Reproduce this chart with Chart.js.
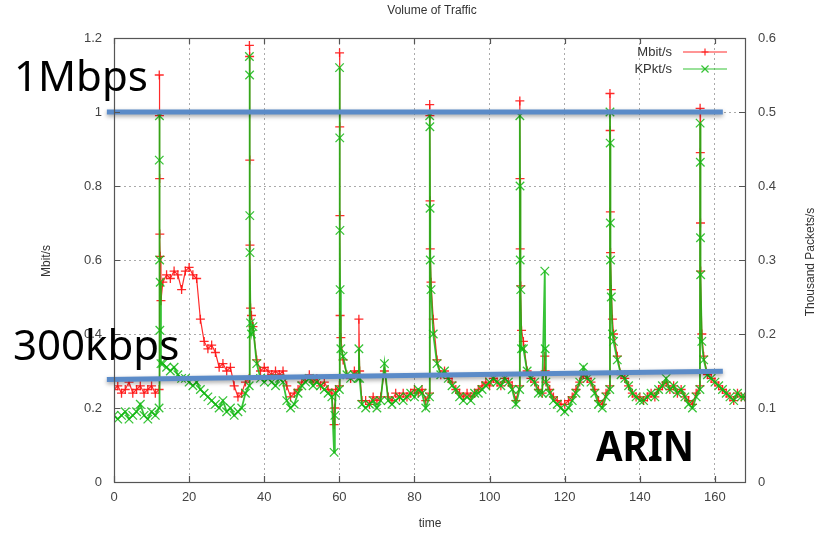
<!DOCTYPE html>
<html>
<head>
<meta charset="utf-8">
<script src="https://cdn.jsdelivr.net/npm/chart.js@4.4.0/dist/chart.umd.min.js"></script>
<style>
  html, body { margin: 0; padding: 0; background: #fff; }
  canvas { display: block; }
</style>
</head>
<body>
<canvas id="trafficChart" width="826" height="535" style="width:826px;height:535px"></canvas>
<script>
// hourly samples, t = 0 .. 168
const mbit = [
    0.25, 0.26, 0.24, 0.25, 0.27, 0.24, 0.25, 0.26, 0.24, 0.25, 0.26, 0.24, 0.25,
    0.54, 0.56, 0.55, 0.57, 0.56, 0.52, 0.57, 0.58, 0.56, 0.55, 0.44, 0.38,
    0.36, 0.37, 0.35, 0.31, 0.32, 0.30, 0.31, 0.26, 0.23, 0.24, 0.27, 0.28,
    0.42, 0.33, 0.30, 0.31, 0.30, 0.29, 0.30, 0.29, 0.30, 0.26, 0.23, 0.24,
    0.25, 0.27, 0.28, 0.29, 0.27, 0.28, 0.26, 0.27, 0.25, 0.24, 0.25, 0.26,
    0.33, 0.29, 0.28, 0.30, 0.29, 0.22, 0.22, 0.21, 0.23, 0.22, 0.23, 0.30,
    0.23, 0.22, 0.24, 0.23, 0.24, 0.23, 0.24, 0.25, 0.24, 0.25, 0.22, 0.24,
    0.44, 0.33, 0.29, 0.30, 0.28, 0.27, 0.25, 0.24, 0.23, 0.24, 0.23, 0.24,
    0.25, 0.26, 0.27, 0.26, 0.28, 0.27, 0.26, 0.28, 0.27, 0.26, 0.22, 0.26,
    0.38, 0.30, 0.28, 0.27, 0.25, 0.24, 0.27, 0.25, 0.23, 0.22, 0.21, 0.21,
    0.22, 0.23, 0.25, 0.27, 0.29, 0.28, 0.27, 0.25, 0.22, 0.21, 0.24, 0.26,
    0.40, 0.34, 0.29, 0.28, 0.26, 0.24, 0.23, 0.23, 0.22, 0.23, 0.24, 0.23,
    0.25, 0.26, 0.27, 0.25, 0.26, 0.24, 0.25, 0.23, 0.22, 0.21, 0.24, 0.26,
    0.34, 0.29, 0.28, 0.27, 0.26, 0.25, 0.24, 0.23, 0.22, 0.24, 0.23, 0.23
];
const kpkt = [
    0.09, 0.085, 0.09, 0.095, 0.085, 0.09, 0.095, 0.105, 0.09, 0.085, 0.095, 0.09, 0.10,
    0.16, 0.155, 0.15, 0.155, 0.145, 0.14, 0.14, 0.135, 0.13, 0.135, 0.125, 0.12,
    0.115, 0.11, 0.105, 0.10, 0.11, 0.095, 0.10, 0.09, 0.095, 0.10, 0.12, 0.13,
    0.21, 0.16, 0.14, 0.135, 0.14, 0.135, 0.13, 0.14, 0.135, 0.11, 0.10, 0.105,
    0.12, 0.13, 0.135, 0.14, 0.13, 0.135, 0.13, 0.125, 0.12, 0.115, 0.12, 0.125,
    0.17, 0.145, 0.14, 0.145, 0.14, 0.105, 0.10, 0.105, 0.11, 0.10, 0.11, 0.16,
    0.11, 0.105, 0.11, 0.115, 0.11, 0.115, 0.12, 0.115, 0.125, 0.12, 0.10, 0.115,
    0.20, 0.16, 0.145, 0.15, 0.14, 0.13, 0.125, 0.115, 0.11, 0.115, 0.11, 0.12,
    0.12, 0.125, 0.13, 0.135, 0.14, 0.135, 0.13, 0.14, 0.135, 0.125, 0.105, 0.125,
    0.18, 0.15, 0.14, 0.135, 0.12, 0.12, 0.135, 0.12, 0.11, 0.105, 0.10, 0.095,
    0.10, 0.11, 0.12, 0.135, 0.155, 0.14, 0.135, 0.12, 0.105, 0.10, 0.115, 0.125,
    0.19, 0.165, 0.145, 0.14, 0.13, 0.12, 0.115, 0.11, 0.11, 0.115, 0.12, 0.115,
    0.125, 0.13, 0.14, 0.125, 0.13, 0.12, 0.125, 0.115, 0.105, 0.10, 0.115, 0.125,
    0.165, 0.145, 0.14, 0.135, 0.13, 0.125, 0.12, 0.115, 0.11, 0.12, 0.115, 0.115
];

// short bursts between the hourly samples (daily spikes)
const spikeTimes = [
    12.05, 12.1, 12.15, 12.2, 12.3, 12.5,
    36.05, 36.1, 36.15, 36.2, 36.35, 36.6,
    58.6, 58.8,
    60.05, 60.1, 60.15, 60.2, 60.4,
    65.2, 65.4,
    84.05, 84.1, 84.15, 84.2, 84.4,
    108.05, 108.1, 108.15, 108.3, 108.5,
    114.7, 114.8,
    132.05, 132.1, 132.15, 132.2, 132.4, 132.7,
    156.05, 156.1, 156.15, 156.2, 156.5
];
const spikeMbit = [
    1.10, 0.99, 0.82, 0.67, 0.61, 0.49,
    1.18, 1.15, 0.87, 0.64, 0.47, 0.45,
    0.155, 0.20,
    1.16, 0.96, 0.72, 0.45, 0.39,
    0.44, 0.30,
    1.02, 0.99, 0.76, 0.63, 0.54,
    1.03, 0.82, 0.63, 0.53, 0.41,
    0.34, 0.30,
    1.05, 0.95, 0.73, 0.62, 0.52, 0.44,
    1.01, 0.89, 0.70, 0.57, 0.40
];
const spikeKpkt = [
    0.435, 0.495, 0.30, 0.205, 0.27, 0.16,
    0.575, 0.55, 0.36, 0.31, 0.215, 0.20,
    0.04, 0.09,
    0.56, 0.465, 0.34, 0.26, 0.18,
    0.18, 0.14,
    0.495, 0.48, 0.37, 0.30, 0.26,
    0.495, 0.40, 0.30, 0.26, 0.18,
    0.285, 0.18,
    0.50, 0.458, 0.35, 0.30, 0.25, 0.20,
    0.485, 0.432, 0.33, 0.28, 0.19
];

const xTicks = [0, 20, 40, 60, 80, 100, 120, 140, 160];
const leftTicks = [0, 0.2, 0.4, 0.6, 0.8, 1, 1.2];
const rightTicks = [0, 0.1, 0.2, 0.3, 0.4, 0.5, 0.6];

// blue marker lines drawn over the plot (Mbit/s axis)
const refLineX = [-1.9, 162.1];
const line1Mbps = [1.0, 1.0];
const line300k = [0.277, 0.299];

function buildPoints(hourly, spikes) {
    const pts = hourly.map((v, i) => ({ x: i, y: v }));
    spikeTimes.forEach((t, i) => pts.push({ x: t, y: spikes[i] }));
    return pts.sort((a, b) => a.x - b.x);
}

const RED = 'rgba(255,20,20,0.9)';
const GREEN = 'rgba(20,185,20,0.85)';
const fontFam = '"Liberation Sans", Arial, sans-serif';

const decor = {
    id: 'decor',
    afterDatasetsDraw(chart) {
        const { ctx, scales } = chart;
        const x = scales.x, y = scales.y;
        ctx.save();
        ctx.strokeStyle = '#5b8bc8';
        ctx.lineWidth = 5;
        ctx.shadowColor = 'rgba(0,0,0,0.35)';
        ctx.shadowBlur = 4;
        ctx.shadowOffsetY = 2;
        [line1Mbps, line300k].forEach(line => {
            ctx.beginPath();
            ctx.moveTo(x.getPixelForValue(refLineX[0]), y.getPixelForValue(line[0]));
            ctx.lineTo(x.getPixelForValue(refLineX[1]), y.getPixelForValue(line[1]));
            ctx.stroke();
        });
        ctx.restore();
    },
    afterDraw(chart) {
        const { ctx, chartArea: a, scales } = chart;
        ctx.save();

        // gnuplot style frame with inward tics
        ctx.strokeStyle = '#555';
        ctx.lineWidth = 1.2;
        ctx.strokeRect(a.left + 0.5, a.top + 0.5, a.right - a.left, a.bottom - a.top);
        ctx.beginPath();
        xTicks.forEach(v => {
            const px = Math.round(scales.x.getPixelForValue(v)) + 0.5;
            ctx.moveTo(px, a.bottom); ctx.lineTo(px, a.bottom - 6);
            ctx.moveTo(px, a.top); ctx.lineTo(px, a.top + 6);
        });
        leftTicks.forEach(v => {
            const py = Math.round(scales.y.getPixelForValue(v)) + 0.5;
            ctx.moveTo(a.left, py); ctx.lineTo(a.left + 6, py);
        });
        rightTicks.forEach(v => {
            const py = Math.round(scales.y1.getPixelForValue(v)) + 0.5;
            ctx.moveTo(a.right, py); ctx.lineTo(a.right - 6, py);
        });
        ctx.stroke();

        // titles
        ctx.fillStyle = '#333';
        ctx.font = '12px ' + fontFam;
        ctx.textAlign = 'center';
        ctx.textBaseline = 'middle';
        ctx.fillText('Volume of Traffic', 432, 11);
        ctx.fillText('time', 430, 524);
        ctx.save();
        ctx.translate(47, 261);
        ctx.rotate(-Math.PI / 2);
        ctx.fillText('Mbit/s', 0, 0);
        ctx.restore();
        ctx.save();
        ctx.translate(811, 262);
        ctx.rotate(-Math.PI / 2);
        ctx.fillText('Thousand Packets/s', 0, 0);
        ctx.restore();

        // legend
        ctx.font = '13px ' + fontFam;
        ctx.textAlign = 'right';
        chart.data.datasets.forEach((ds, i) => {
            const ly = 52 + i * 17;
            ctx.fillStyle = '#333';
            ctx.fillText(ds.label, 672, ly);
            ctx.strokeStyle = ds.borderColor;
            ctx.lineWidth = 1.2;
            ctx.beginPath();
            ctx.moveTo(683, ly); ctx.lineTo(727, ly);
            ctx.stroke();
            Chart.helpers.drawPoint(ctx, {
                pointStyle: ds.pointStyle, radius: ds.pointRadius - 1, borderWidth: 1
            }, 705, ly);
        });

        // slide annotations
        ctx.fillStyle = '#000';
        ctx.textAlign = 'left';
        ctx.textBaseline = 'alphabetic';
        ctx.font = '42px "Noto Sans", sans-serif';
        ctx.fillText('1Mbps', 14, 91);
        ctx.fillText('300kbps', 13, 360);
        ctx.save();
        ctx.font = 'bold 41px "Noto Sans", sans-serif';
        const w = ctx.measureText('ARIN').width;
        ctx.translate(596, 461);
        ctx.scale(98 / w, 1);
        ctx.fillText('ARIN', 0, 0);
        ctx.restore();

        ctx.restore();
    }
};

const tickFont = { family: fontFam, size: 13 };
const numLabel = v => String(+Number(v).toFixed(2));

new Chart(document.getElementById('trafficChart'), {
    type: 'line',
    data: {
        datasets: [{
            label: 'Mbit/s',
            data: buildPoints(mbit, spikeMbit),
            yAxisID: 'y',
            borderColor: RED,
            backgroundColor: RED,
            borderWidth: 1.2,
            pointStyle: 'cross',
            pointRadius: 4.5,
            pointBorderWidth: 1.3,
            pointBorderColor: RED,
            tension: 0,
            order: 2
        }, {
            label: 'KPkt/s',
            data: buildPoints(kpkt, spikeKpkt),
            yAxisID: 'y1',
            borderColor: GREEN,
            backgroundColor: GREEN,
            borderWidth: 1.8,
            pointStyle: 'crossRot',
            pointRadius: 6,
            pointBorderWidth: 1.3,
            pointBorderColor: GREEN,
            tension: 0,
            order: 1
        }]
    },
    options: {
        responsive: false,
        animation: false,
        devicePixelRatio: 1,
        layout: { padding: { top: 38, left: 0, right: 0, bottom: 0 } },
        parsing: false,
        scales: {
            x: {
                type: 'linear',
                min: 0,
                max: 168,
                afterFit: s => { s.height = 53; },
                ticks: { stepSize: 20, includeBounds: false, font: tickFont, color: '#444', padding: 8, maxRotation: 0 },
                grid: { color: '#aaa', drawTicks: false, lineWidth: 1 },
                border: { display: false, dash: [2, 3] }
            },
            y: {
                position: 'left',
                min: 0,
                max: 1.2,
                afterFit: s => { s.width = 114; },
                ticks: { stepSize: 0.2, font: tickFont, color: '#444', padding: 12, callback: numLabel },
                grid: { color: '#aaa', drawTicks: false, lineWidth: 1 },
                border: { display: false, dash: [2, 3] }
            },
            y1: {
                position: 'right',
                min: 0,
                max: 0.6,
                afterFit: s => { s.width = 81; },
                ticks: { stepSize: 0.1, font: tickFont, color: '#444', padding: 13, callback: numLabel },
                grid: { display: false, drawTicks: false },
                border: { display: false }
            }
        },
        plugins: {
            legend: { display: false },
            title: { display: false },
            tooltip: { enabled: false }
        }
    },
    plugins: [decor]
});
</script>
</body>
</html>
